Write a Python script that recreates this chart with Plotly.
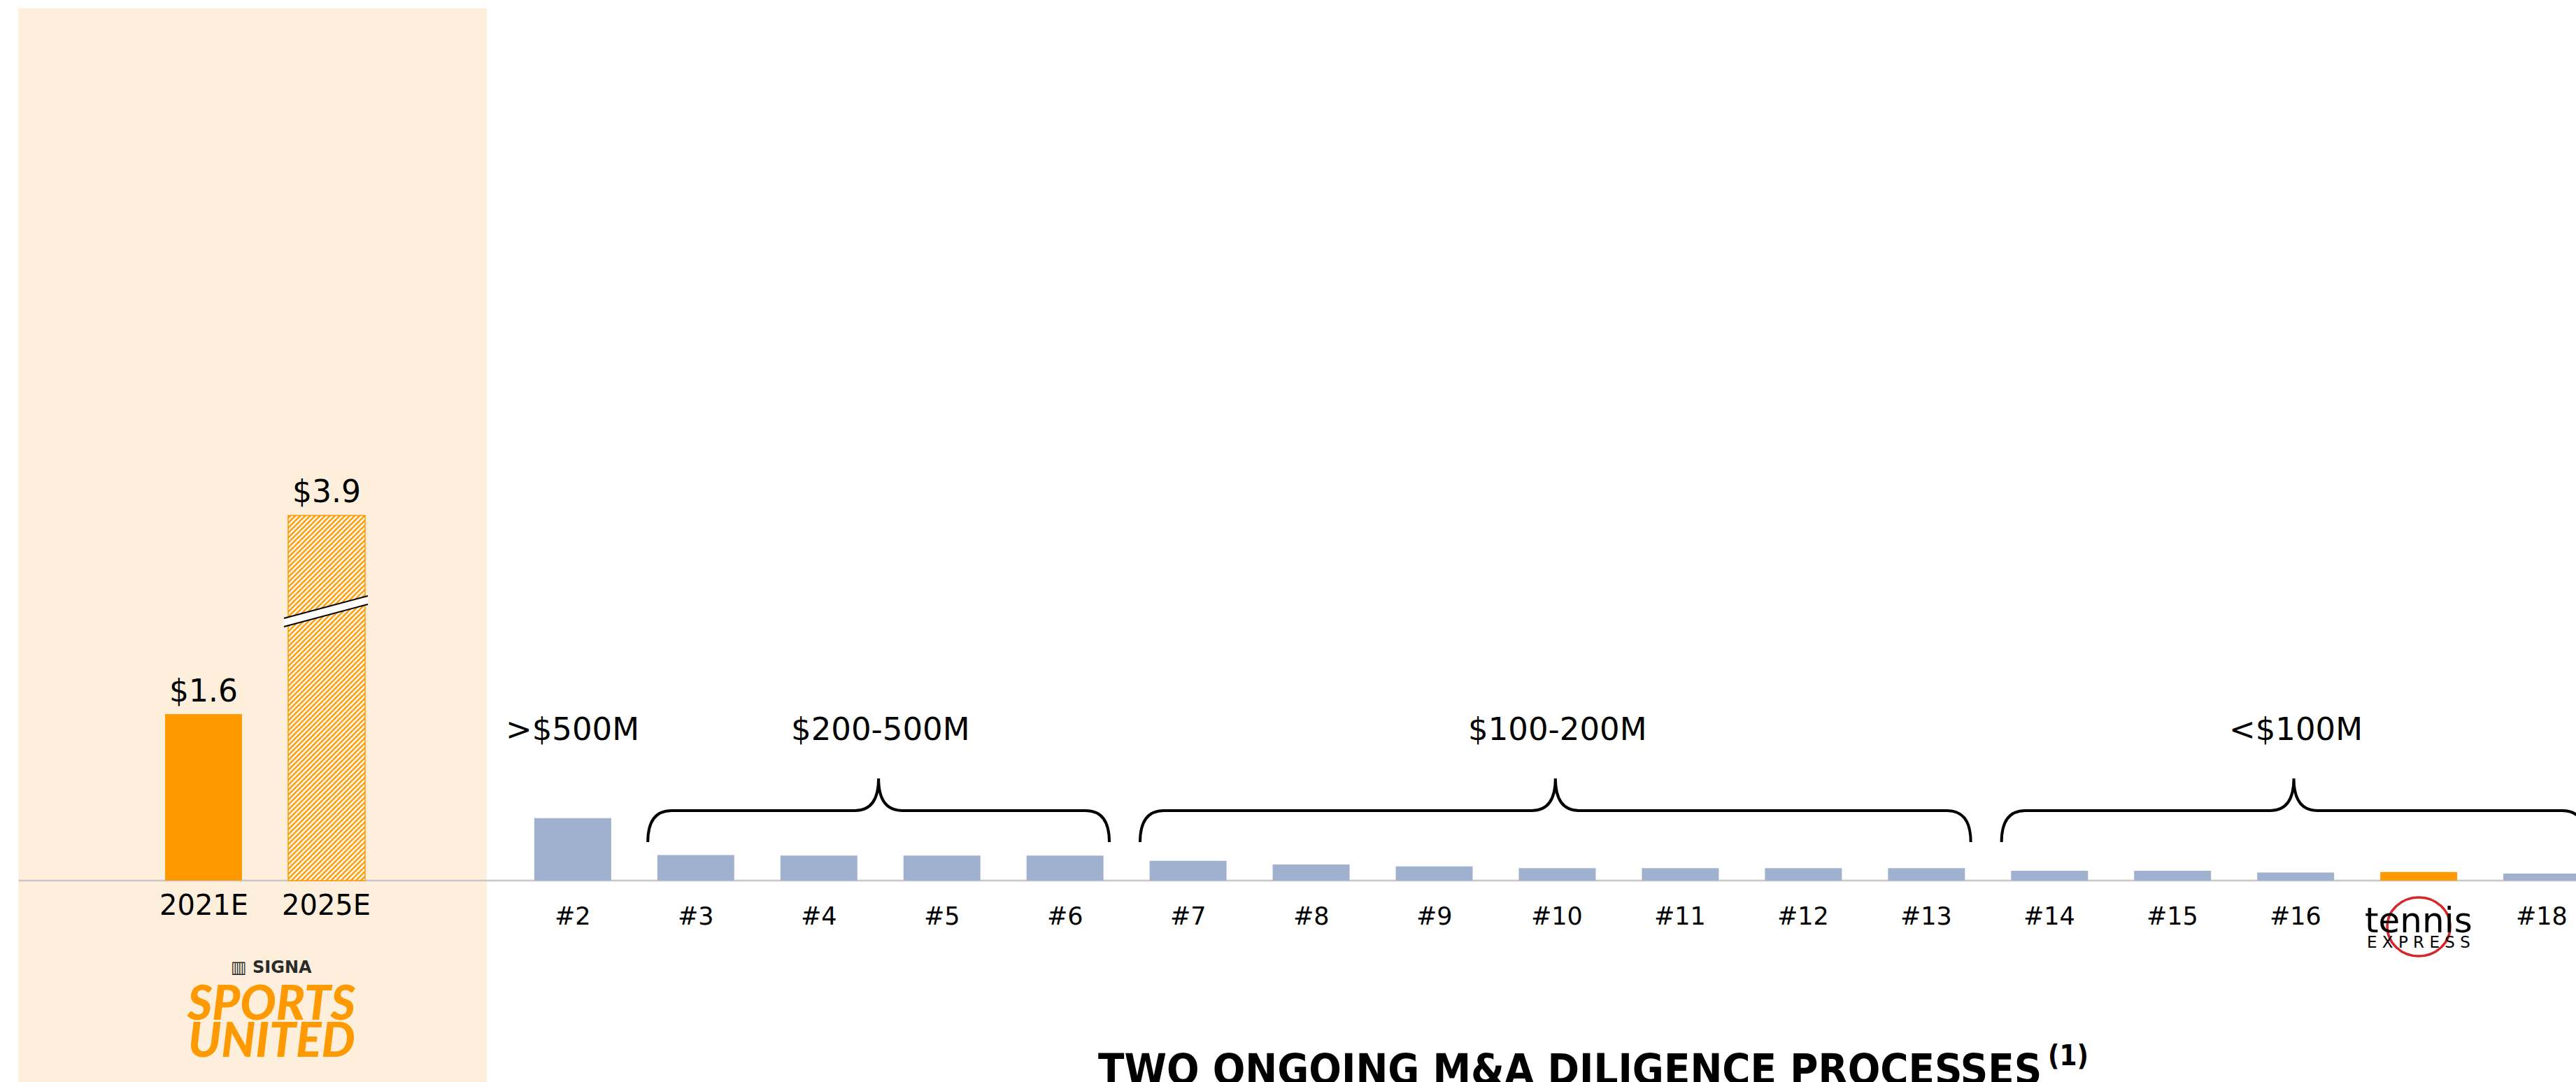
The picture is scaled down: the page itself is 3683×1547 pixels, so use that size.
import plotly.graph_objects as go

W, H = 3683, 1547

# ---------------- data ----------------
panel_categories = ["2021E", "2025E"]
panel_values = [1.6, 3.9]              # $B
panel_labels = ["$1.6", "$3.9"]
panel_break = [0.0, 0.39]              # value hidden by the axis break (2025E bar)
panel_hatched = [False, True]          # 2025E is an estimate -> hatched

competitor_labels = ["#2", "#3", "#4", "#5", "#6", "#7", "#8", "#9", "#10", "#11",
                     "#12", "#13", "#14", "#15", "#16", "Tennis Express", "#18"]
competitor_values = [0.60, 0.245, 0.24, 0.24, 0.24, 0.19, 0.155, 0.137, 0.12, 0.12,
                     0.12, 0.12, 0.095, 0.095, 0.077, 0.083, 0.068]
highlight_label = "Tennis Express"

group_names = [">$500M", "$200-500M", "$100-200M", "<$100M"]
group_first = ["#2", "#3", "#7", "#14"]
group_last = ["#2", "#6", "#13", "#18"]

title_text = "TWO ONGOING M&A DILIGENCE PROCESSES"
title_note = "(1)"

# ---------------- style ----------------
ORANGE = "#FF9900"
BLUE = "#9FB1CF"
BEIGE = "#FDEFDB"
BASE = "#C8C8C8"
FONT = "DejaVu Sans"
TITLE_FONT = "Liberation Sans Narrow, Arial Narrow, DejaVu Sans Condensed"
BAR_W = 0.625

X_RANGE = [-1.654, 19.278]
Y_RANGE = [-1.936, 8.464]


def px2y(p):
    return Y_RANGE[1] - p / H * (Y_RANGE[1] - Y_RANGE[0])


def dx(p):
    return p / W * (X_RANGE[1] - X_RANGE[0])


def dy(p):
    return p / H * (Y_RANGE[1] - Y_RANGE[0])


panel_x = list(range(len(panel_categories)))
comp_start = len(panel_categories) + 1
comp_x = [comp_start + i for i in range(len(competitor_labels))]
slot = dict(zip(competitor_labels, comp_x))
panel_shown = [v - b for v, b in zip(panel_values, panel_break)]

fig = go.Figure()

# left panel bars: solid actual, hatched estimate
solid_x = [x for x, h in zip(panel_x, panel_hatched) if not h]
solid_y = [y for y, h in zip(panel_shown, panel_hatched) if not h]
hatch_x = [x for x, h in zip(panel_x, panel_hatched) if h]
hatch_y = [y for y, h in zip(panel_shown, panel_hatched) if h]

fig.add_trace(go.Bar(x=solid_x, y=solid_y, width=BAR_W,
                     marker=dict(color=ORANGE, line=dict(width=0)), hoverinfo="skip"))
fig.add_trace(go.Bar(
    x=hatch_x, y=hatch_y, width=BAR_W,
    marker=dict(color=ORANGE, line=dict(color=ORANGE, width=1.5),
                pattern=dict(shape="/", fgcolor=ORANGE, bgcolor="#FFFFFF", size=5,
                             solidity=0.5, fillmode="replace")),
    hoverinfo="skip",
))

# competitor bars
fig.add_trace(go.Bar(
    x=comp_x, y=competitor_values, width=BAR_W,
    marker=dict(color=[ORANGE if l == highlight_label else BLUE for l in competitor_labels],
                line=dict(width=0)),
    hoverinfo="skip",
))

shapes = []
annotations = []

# beige panel
shapes.append(dict(type="rect", xref="paper", yref="paper",
                   x0=26 / W, x1=696 / W, y0=0, y1=1 - 12 / H,
                   fillcolor=BEIGE, line=dict(width=0), layer="below"))
# baseline
shapes.append(dict(type="line", xref="paper", yref="y", x0=27 / W, x1=1, y0=0, y1=0,
                   line=dict(color=BASE, width=2.5), layer="below"))

# axis-break marker on the 2025E bar
bx = hatch_x[0]
xl = bx - BAR_W / 2 - dx(6)
xr = bx + BAR_W / 2 + dx(4)
top = hatch_y[0]
yl = top - dy(153)
yr = top - dy(121)
hh = dy(6)
shapes.append(dict(type="path", xref="x", yref="y",
                   path=f"M {xl},{yl + hh} L {xr},{yr + hh} L {xr},{yr - hh} L {xl},{yl - hh} Z",
                   fillcolor="#FFFFFF", line=dict(width=0)))
for s in (1, -1):
    shapes.append(dict(type="line", xref="x", yref="y", x0=xl, x1=xr,
                       y0=yl + s * hh, y1=yr + s * hh, line=dict(color="#000000", width=2)))

# braces
yb, yh, yt = px2y(1204), px2y(1159), px2y(1113)
rx, tx = dx(34), dx(34)
for name, f, l in zip(group_names, group_first, group_last):
    if f == l:
        continue
    x0 = slot[f] - 0.39
    x1 = slot[l] + 0.36
    xm = (x0 + x1) / 2
    path = (f"M {x0},{yb} Q {x0},{yh} {x0 + rx},{yh} L {xm - tx},{yh} "
            f"Q {xm},{yh} {xm},{yt} Q {xm},{yh} {xm + tx},{yh} "
            f"L {x1 - rx},{yh} Q {x1},{yh} {x1},{yb}")
    shapes.append(dict(type="path", xref="x", yref="y", path=path,
                       line=dict(color="#000000", width=4)))

# group labels
for name, f, l in zip(group_names, group_first, group_last):
    annotations.append(dict(x=(slot[f] + slot[l]) / 2, y=px2y(1042), xref="x", yref="y",
                            text=name, showarrow=False, xanchor="center", yanchor="middle",
                            font=dict(family=FONT, size=45, color="#000000")))

# panel value labels and categories
for x, v, lab, cat in zip(panel_x, panel_shown, panel_labels, panel_categories):
    annotations.append(dict(x=x, y=v, xref="x", yref="y", text=lab, showarrow=False,
                            xanchor="center", yanchor="middle", yshift=34,
                            font=dict(family=FONT, size=44, color="#000000")))
    annotations.append(dict(x=x, y=px2y(1294), xref="x", yref="y", text=cat, showarrow=False,
                            xanchor="center", yanchor="middle",
                            font=dict(family=FONT, size=40, color="#000000")))

# competitor labels
for x, lab in zip(comp_x, competitor_labels):
    if lab == highlight_label:
        annotations.append(dict(x=x, y=px2y(1316), xref="x", yref="y", text="tennis",
                                showarrow=False, xanchor="center", yanchor="middle",
                                font=dict(family=FONT, size=50, color="#000000")))
        annotations.append(dict(x=x, y=px2y(1347), xref="x", yref="y", text="E X P R E S S",
                                showarrow=False, xanchor="center", yanchor="middle",
                                font=dict(family=FONT, size=23, color="#000000")))
        shapes.append(dict(type="circle", xref="x", yref="y",
                           x0=x - dx(45), x1=x + dx(45), y0=px2y(1367), y1=px2y(1283),
                           line=dict(color="#D7262B", width=3.5)))
    else:
        annotations.append(dict(x=x, y=px2y(1310), xref="x", yref="y", text=lab,
                                showarrow=False, xanchor="center", yanchor="middle",
                                font=dict(family=FONT, size=35, color="#000000")))

# SIGNA SPORTS UNITED logo
annotations.append(dict(x=388 / W, y=1 - 1383 / H, xref="paper", yref="paper",
                        text="<b>▥ SIGNA</b>", showarrow=False, xanchor="center", yanchor="middle",
                        font=dict(family=FONT, size=24, color="#2B2B2B")))
for txt, yc in (("SPORTS", 1431), ("UNITED", 1484)):
    annotations.append(dict(x=388 / W, y=1 - yc / H, xref="paper", yref="paper",
                            text=txt, showarrow=False, xanchor="center", yanchor="middle",
                            font=dict(family="Lato", size=68, color=ORANGE, weight=900,
                                      style="italic")))

# bottom title (cut off by the page edge as in the original)
annotations.append(dict(x=1568 / W, y=1 - 1491 / H, xref="paper", yref="paper",
                        text=title_text, showarrow=False, xanchor="left", yanchor="top",
                        font=dict(family=TITLE_FONT, size=61, color="#000000", weight=700)))
annotations.append(dict(x=2926 / W, y=1 - 1484 / H, xref="paper", yref="paper",
                        text=title_note, showarrow=False, xanchor="left", yanchor="top",
                        font=dict(family=TITLE_FONT, size=40, color="#000000", weight=700)))

fig.update_layout(
    width=W, height=H,
    margin=dict(l=0, r=0, t=0, b=0),
    paper_bgcolor="#FFFFFF", plot_bgcolor="rgba(0,0,0,0)",
    barmode="overlay", showlegend=False,
    xaxis=dict(range=X_RANGE, visible=False, showgrid=False, zeroline=False, fixedrange=True),
    yaxis=dict(range=Y_RANGE, visible=False, showgrid=False, zeroline=False, fixedrange=True),
    shapes=shapes, annotations=annotations,
)

fig.write_html("out.html")
